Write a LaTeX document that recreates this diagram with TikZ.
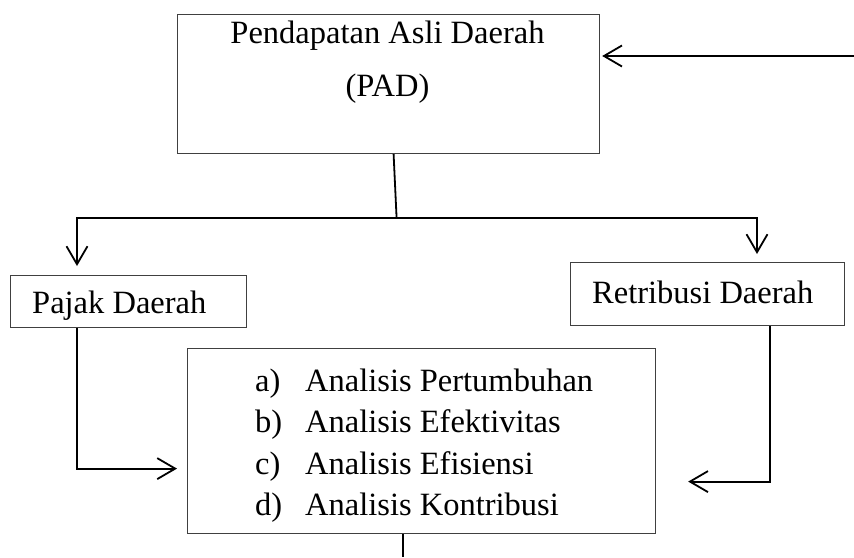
\documentclass[tikz,border=0pt]{standalone}
\usepackage{fontspec}
\setmainfont{Liberation Serif}
\usetikzlibrary{positioning,arrows.meta}
\tikzset{
	kotak/.style={draw=black!75, line width=1.2pt, inner sep=0pt, anchor=north west},
	teks/.style={anchor=base west, inner sep=0pt},
	garis/.style={line width=1.8pt},
	panah/.style={garis, -{Straight Barb[length=18pt,width=21pt]}},
}
\begin{document}
\begin{tikzpicture}[x=1pt,y=-1pt,font=\fontsize{32.5}{40}\selectfont]
	\useasboundingbox (0,0) rectangle (854,557);
	% kotak
	\node[kotak, minimum width=422pt, minimum height=139pt] (pad) at (177,14) {};
	\node[kotak, minimum width=236pt, minimum height=52pt] (pajak) at (10,275) {};
	\node[kotak, minimum width=274pt, minimum height=63pt] (retribusi) at (570,262) {};
	\node[kotak, minimum width=468pt, minimum height=185pt] (analisis) at (187,348) {};

	% teks PAD
	\node[anchor=base, inner sep=0pt] (padsatu) at (387.5,43) {Pendapatan Asli Daerah};
	\node[anchor=base, inner sep=0pt] (paddua) at (387.5,96) {(PAD)};
	\node[teks] (pajakteks) at (32,313) {Pajak Daerah};
	\node[teks] (retribusiteks) at (592,303) {Retribusi Daerah};
	% daftar analisis
	\node[teks] (ha) at (255,391) {a)};
	\node[teks] (hb) at (255,432) {b)};
	\node[teks] (hc) at (255,474) {c)};
	\node[teks] (hd) at (255,515) {d)};
	\node[teks] (ta) at (305,391) {Analisis Pertumbuhan};
	\node[teks] (tb) at (305,432) {Analisis Efektivitas};
	\node[teks] (tc) at (305,474) {Analisis Efisiensi};
	\node[teks] (td) at (305,515) {Analisis Kontribusi};

	% panah masuk
	\coordinate (masuk) at (854,56);
	\draw[panah, shorten >=2pt] (masuk) -- (pad.east |- masuk);
	% cabang ke pajak dan retribusi
	\coordinate (cabang) at ([xshift=8pt,yshift=-64pt]pad.south);
	\draw[garis] ([xshift=5pt]pad.south) -- (cabang);
	\draw[panah, shorten >=9pt] (cabang) -| ([xshift=67pt]pajak.north west);
	\draw[panah, shorten >=8pt] (cabang) -| ([xshift=187pt]retribusi.north west);
	% ke analisis
	\draw[panah, shorten >=10pt] ([xshift=67pt]pajak.south west) |- ([yshift=-27.5pt]analisis.west);
	\draw[panah, shorten >=32pt] ([xshift=-75pt]retribusi.south east) |- ([yshift=-40.5pt]analisis.east);
	% keluar
	\coordinate (keluar) at (403,557);
	\draw[garis] (analisis.south -| keluar) -- (keluar);
\end{tikzpicture}
\end{document}
